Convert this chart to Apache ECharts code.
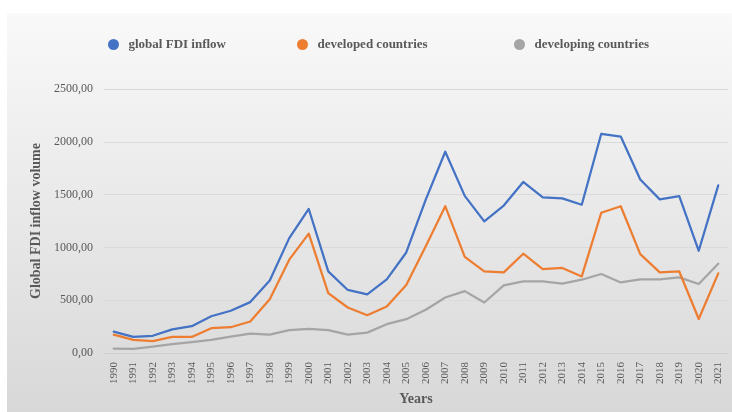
<!DOCTYPE html>
<html>
<head>
<meta charset="utf-8">
<script src="https://cdn.jsdelivr.net/npm/echarts@6/dist/echarts.min.js"></script>
<style>
  html, body { margin: 0; padding: 0; background: #ffffff; }
  #chart { width: 732px; height: 412px; }
</style>
</head>
<body>
<div id="chart"></div>
<script>
// Years on the category axis
const years = ['1990','1991','1992','1993','1994','1995','1996','1997','1998','1999',
  '2000','2001','2002','2003','2004','2005','2006','2007','2008','2009',
  '2010','2011','2012','2013','2014','2015','2016','2017','2018','2019',
  '2020','2021'];

// FDI inflows (billions of USD)
const globalInflow = [202, 152, 163, 224, 254, 348, 400, 482, 686, 1088,
  1364, 773, 597, 556, 698, 952, 1452, 1906, 1488, 1246,
  1396, 1620, 1474, 1464, 1404, 2076, 2050, 1643, 1455, 1486,
  968, 1588];
const developedCountries = [174, 124, 112, 152, 152, 235, 244, 298, 510, 884,
  1131, 567, 431, 358, 440, 643, 1010, 1390, 910, 773,
  763, 940, 795, 805, 725, 1328, 1390, 936, 763, 772,
  322, 754];
const developingCountries = [41, 38, 60, 83, 102, 124, 155, 183, 174, 216,
  228, 216, 174, 193, 273, 320, 409, 526, 586, 478,
  640, 678, 678, 656, 694, 748, 668, 697, 697, 716,
  653, 846];

const seriesNames = ['global FDI inflow', 'developed countries', 'developing countries'];
const seriesColors = ['#4472C4', '#ED7D31', '#A5A5A5'];

const serif = '"Liberation Serif", "DejaVu Serif", serif';
const tickColor = '#595959';

const chart = echarts.init(document.getElementById('chart'));

// One legend block per series so each entry sits at its own spot
function legendFor(i, left) {
  return {
    data: [seriesNames[i]],
    left: left,
    top: 38,
    padding: 0,
    icon: 'circle',
    itemWidth: 20,
    itemHeight: 11,
    textStyle: { fontFamily: serif, fontWeight: 'bold', fontSize: 13, color: tickColor }
  };
}

chart.setOption({
  animation: false,
  backgroundColor: '#ffffff',
  graphic: [{
    type: 'rect',
    z: -10,
    silent: true,
    shape: { x: 7, y: 13, width: 725, height: 399 },
    style: {
      fill: new echarts.graphic.LinearGradient(0, 0, 0, 1, [
        { offset: 0, color: '#f9f9f9' },
        { offset: 1, color: '#d8d8d8' }
      ])
    }
  }],
  legend: [legendFor(0, 108), legendFor(1, 297), legendFor(2, 514)],
  grid: { left: 104, top: 89, width: 624, height: 264, containLabel: false },
  xAxis: {
    type: 'category',
    data: years,
    boundaryGap: true,
    name: 'Years',
    nameLocation: 'middle',
    nameGap: 35,
    nameTextStyle: { fontFamily: serif, fontWeight: 'bold', fontSize: 14, color: tickColor },
    axisLine: { show: true, lineStyle: { color: '#cfcfcf', width: 1 } },
    axisTick: { show: false },
    axisLabel: {
      rotate: 90,
      interval: 0,
      margin: 9,
      fontFamily: serif,
      fontSize: 11,
      color: tickColor
    }
  },
  yAxis: {
    type: 'value',
    min: 0,
    max: 2500,
    interval: 500,
    name: 'Global FDI inflow volume',
    nameLocation: 'middle',
    nameGap: 61,
    nameRotate: 90,
    nameTextStyle: { fontFamily: serif, fontWeight: 'bold', fontSize: 14, color: tickColor },
    axisLine: { show: false },
    axisTick: { show: false },
    axisLabel: {
      margin: 11,
      fontFamily: serif,
      fontSize: 12,
      color: tickColor,
      formatter: v => v.toFixed(2).replace('.', ',')
    },
    splitLine: { lineStyle: { color: '#dadada', width: 1 } }
  },
  series: [globalInflow, developedCountries, developingCountries].map((vals, i) => ({
    name: seriesNames[i],
    type: 'line',
    data: vals,
    symbol: 'none',
    smooth: false,
    itemStyle: { color: seriesColors[i] },
    lineStyle: { color: seriesColors[i], width: 2.25, cap: 'round', join: 'round' },
    z: 3 - i
  }))
});
</script>
</body>
</html>
